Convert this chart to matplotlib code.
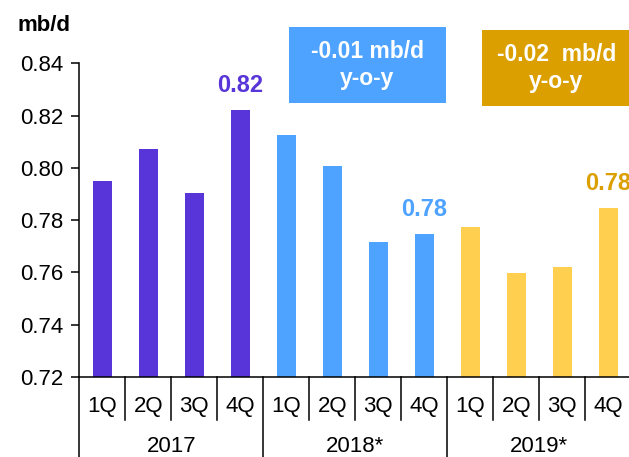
import matplotlib.pyplot as plt
from matplotlib.patches import Rectangle

plt.rcParams['font.family'] = ['Liberation Sans', 'DejaVu Sans']

quarters = ['1Q', '2Q', '3Q', '4Q'] * 3
years = ['2017', '2018*', '2019*']
supply = [0.795, 0.8074, 0.7904, 0.8221,
          0.8125, 0.8007, 0.7716, 0.7746,
          0.7773, 0.7598, 0.7621, 0.7846]
bar_colors = ['#5835D8'] * 4 + ['#4DA3FF'] * 4 + ['#FFD050'] * 4

# labelled bars: (index, text, colour)
labels = [(3, '0.82', '#5835D8'), (7, '0.78', '#4DA3FF'), (11, '0.78', '#DBA000')]
boxes = [('-0.01 mb/d\ny-o-y', '#4DA3FF'), ('-0.02  mb/d\ny-o-y', '#DBA000')]

fig = plt.figure(figsize=(6.29, 4.57), dpi=100)
ax = fig.add_axes([0.1261, 0.175, 0.8776, 0.6864])

x = list(range(len(supply)))
ax.bar(x, [v - 0.72 for v in supply], bottom=0.72, width=0.4, color=bar_colors)
ax.set_xlim(-0.5, 11.5)
ax.set_ylim(0.72, 0.84)
ax.set_yticks([0.72, 0.74, 0.76, 0.78, 0.80, 0.82, 0.84])
ax.set_yticklabels([f'{t:.2f}' for t in ax.get_yticks()])
ax.tick_params(axis='y', labelsize=16, length=5.5, width=1.1, pad=6)
ax.set_xticks([])
for s in ['top', 'right']:
    ax.spines[s].set_visible(False)
for s in ['left', 'bottom']:
    ax.spines[s].set_linewidth(1.1)

for i, txt, c in labels:
    ax.text(i, supply[i] + 0.005, txt, ha='center', va='bottom', color=c,
            fontsize=17, fontweight='bold', clip_on=False)

# category axis with separators
tr = ax.get_xaxis_transform()
for k in range(13):
    xb = k - 0.5
    y_end = -0.255 if k % 4 == 0 else -0.137
    ax.plot([xb, xb], [0, y_end], transform=tr, color='black', lw=1.1, clip_on=False)
for i, q in enumerate(quarters):
    ax.text(i, -0.0925, q, transform=tr, ha='center', va='center', fontsize=16)
for j, y in enumerate(years):
    ax.text(j * 4 + 1.5, -0.223, y, transform=tr, ha='center', va='center', fontsize=16)

fig.text(0.07, 0.945, 'mb/d', ha='center', va='center', fontsize=16, fontweight='bold')

# y-o-y boxes
box_pos = [(0.4595, 0.7746, 0.2496, 0.5843, 0.8578), (0.7663, 0.768, 0.25, 0.8847, 0.851)]
for (txt, c), (bx, by, bw, tx, ty) in zip(boxes, box_pos):
    fig.patches.append(Rectangle((bx, by), bw, 0.1663, transform=fig.transFigure,
                                 facecolor=c, edgecolor='none'))
    fig.text(tx, ty, txt, ha='center', va='center', color='white', fontsize=16.5,
             fontweight='bold', linespacing=1.25)

fig.savefig('out.png', dpi=100)
